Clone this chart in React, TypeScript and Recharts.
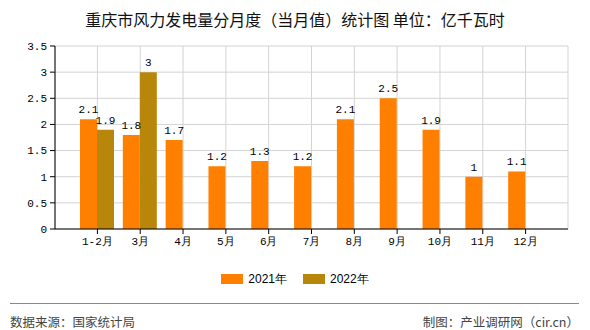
import { Bar, BarChart, CartesianGrid, LabelList, XAxis, YAxis } from "recharts"

// 重庆市风力发电量（当月值），单位：亿千瓦时
const months = ["1-2月", "3月", "4月", "5月", "6月", "7月", "8月", "9月", "10月", "11月", "12月"]
const values2021 = [2.1, 1.8, 1.7, 1.2, 1.3, 1.2, 2.1, 2.5, 1.9, 1, 1.1]
const values2022: (number | null)[] = [1.9, 3, null, null, null, null, null, null, null, null, null]
const yTicks = [0, 0.5, 1, 1.5, 2, 2.5, 3, 3.5]

const series = [
  { key: "y2021", name: "2021年", color: "#FF8000" },
  { key: "y2022", name: "2022年", color: "#B8860B" },
]

const data = months.map((m, i) => ({ month: m, y2021: values2021[i], y2022: values2022[i] }))

const monoFont = "'Liberation Mono', 'DejaVu Sans Mono', monospace"
const cjkFont = "'Noto Sans CJK SC', sans-serif"

export default function App() {
  return (
    <div style={{ position: "absolute", left: 0, top: 0, width: 590, height: 330, background: "#fff" }}>
      <div
        style={{
          position: "absolute",
          top: 8,
          left: 0,
          width: 590,
          textAlign: "center",
          fontFamily: cjkFont,
          fontSize: 16,
          color: "#111",
          lineHeight: "22px",
        }}
      >
        重庆市风力发电量分月度（当月值）统计图 单位：亿千瓦时
      </div>

      <BarChart
        width={590}
        height={330}
        data={data}
        margin={{ top: 46, right: 22, left: 0, bottom: 71 }}
        barCategoryGap={4}
        barGap={0}
      >
        <CartesianGrid stroke="#d3d3d3" strokeWidth={1} />
        <XAxis
          dataKey="month"
          padding={{ left: 21, right: 21 }}
          axisLine={{ stroke: "#000" }}
          tickLine={{ stroke: "#000" }}
          tickSize={5}
          tickMargin={3}
          height={30}
          tick={{ fill: "#000", fontSize: 11, fontFamily: monoFont }}
          interval={0}
        />
        <YAxis
          domain={[0, 3.5]}
          ticks={yTicks}
          width={55}
          axisLine={{ stroke: "#000" }}
          tickLine={{ stroke: "#000" }}
          tickSize={5}
          tickMargin={3}
          tick={{ fill: "#000", fontSize: 11, fontFamily: monoFont }}
          allowDecimals
        />
        <YAxis
          yAxisId="right"
          orientation="right"
          width={0}
          tick={false}
          tickLine={false}
          axisLine={{ stroke: "#d3d3d3" }}
        />
        {series.map((s) => (
          <Bar key={s.key} dataKey={s.key} name={s.name} fill={s.color} isAnimationActive={false}>
            <LabelList
              dataKey={s.key}
              position="top"
              offset={6}
              fill="#000"
              fontSize={11}
              fontFamily={monoFont}
            />
          </Bar>
        ))}
      </BarChart>

      <div
        style={{
          position: "absolute",
          top: 271,
          left: 0,
          width: 590,
          display: "flex",
          justifyContent: "center",
          gap: 16,
          fontFamily: "'Liberation Sans', Arial, sans-serif",
          fontSize: 12,
          color: "#000",
        }}
      >
        {series.map((s) => (
          <div key={s.key} style={{ display: "flex", alignItems: "center", gap: 5, lineHeight: "16px" }}>
            <span style={{ display: "inline-block", width: 22, height: 10, background: s.color }} />
            <span>{s.name}</span>
          </div>
        ))}
      </div>

      <div style={{ position: "absolute", top: 303, left: 10, width: 569, height: 1, background: "#888" }} />
      <div
        style={{
          position: "absolute",
          top: 313,
          left: 10,
          fontFamily: cjkFont,
          fontSize: 12.5,
          color: "#444",
          lineHeight: "18px",
        }}
      >
        数据来源：国家统计局
      </div>
      <div
        style={{
          position: "absolute",
          top: 313,
          right: 11,
          fontFamily: cjkFont,
          fontSize: 12.5,
          color: "#444",
          lineHeight: "18px",
        }}
      >
        制图：产业调研网（cir.cn）
      </div>
    </div>
  )
}
